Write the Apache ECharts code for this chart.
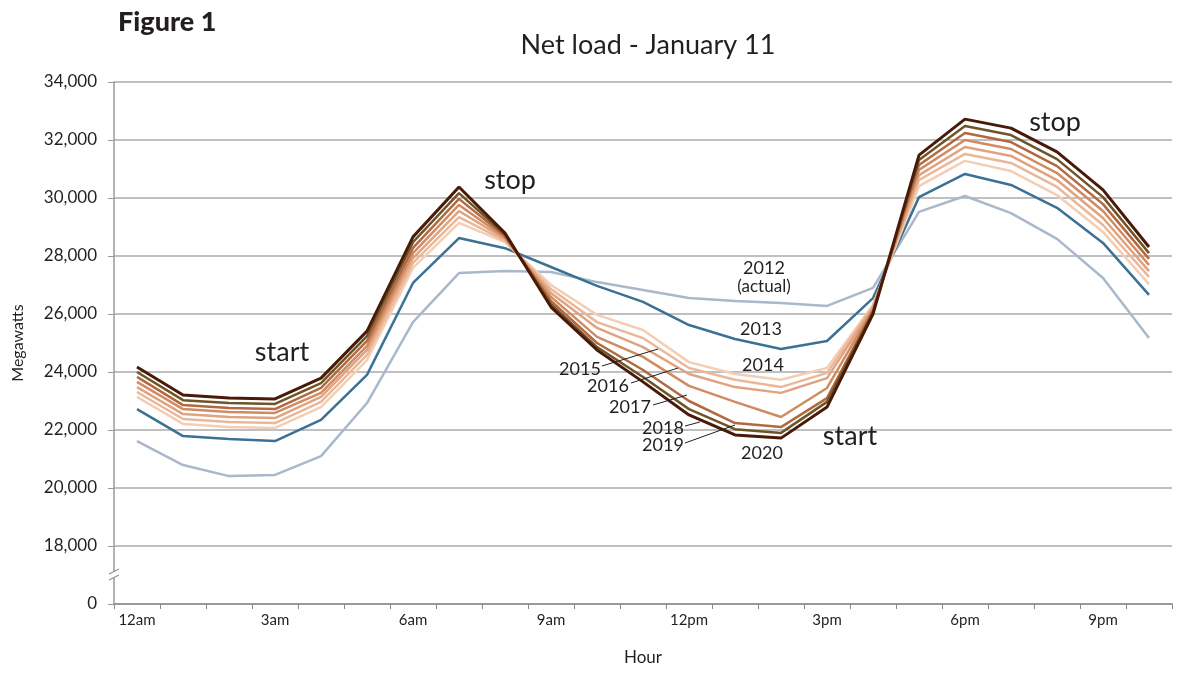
<!DOCTYPE html>
<html><head><meta charset="utf-8">
<script src="https://cdn.jsdelivr.net/npm/echarts@6/dist/echarts.min.js"></script>
<style>html,body{margin:0;padding:0;background:#fff}#c{width:1200px;height:676px}</style>
</head><body><div id="c"></div>
<script>
const hours = ['12am','1am','2am','3am','4am','5am','6am','7am','8am','9am','10am','11am',
  '12pm','1pm','2pm','3pm','4pm','5pm','6pm','7pm','8pm','9pm','10pm'];
const years = ['2012','2013','2014','2015','2016','2017','2018','2019','2020'];

const load2012 = [21620,20790,20410,20450,21100,22930,25720,27410,27480,27450,27100,26830,26550,26450,26380,26280,26900,29520,30070,29480,28590,27240,25170];
const load2013 = [22720,21790,21690,21620,22350,23900,27070,28620,28270,27620,26970,26420,25620,25140,24790,25070,26550,30030,30830,30450,29660,28450,26660];
const load2014 = [23140,22210,22100,22070,22790,24410,27590,29140,28480,27000,25970,25450,24340,23930,23730,24140,26310,30410,31280,30930,30100,28830,27030];
const load2015 = [23310,22380,22280,22240,22970,24590,27760,29340,28530,26860,25720,25170,24140,23730,23480,23970,26280,30620,31520,31210,30380,29070,27280];
const load2016 = [23480,22550,22450,22410,23140,24760,27930,29550,28590,26720,25520,24860,23930,23480,23280,23790,26210,30790,31760,31450,30620,29310,27480];
const load2017 = [23660,22720,22620,22590,23280,24900,28100,29760,28640,26590,25210,24520,23520,22970,22450,23450,26170,30970,32000,31690,30860,29550,27690];
const load2018 = [23830,22860,22760,22720,23450,25070,28280,29970,28690,26450,25000,24070,23000,22240,22100,23100,26100,31140,32240,31930,31100,29790,27900];
const load2019 = [24000,23030,22930,22900,23620,25240,28480,30170,28740,26340,24860,23830,22720,22030,21900,22970,26070,31310,32480,32170,31340,30030,28100];
const load2020 = [24170,23210,23100,23070,23790,25410,28660,30380,28790,26240,24760,23660,22520,21830,21720,22790,26000,31480,32720,32410,31590,30280,28310];

const seriesData = [load2012,load2013,load2014,load2015,load2016,load2017,load2018,load2019,load2020];
const colors = ['#a9b8cb','#3b7194','#f3ceb3','#eab898','#e0a37f','#d08b63','#b3693f','#6e5528','#4a1a08'];
const widths = [2.5,2.5,2.5,2.5,2.5,2.5,2.5,2.5,3];

const FONT = 'Lato, "Open Sans", sans-serif';
const INK = '#231f20';
const chart = echarts.init(document.getElementById('c'), null, {renderer:'canvas'});

function txt(text, x, y, size, opts) {
  return {type:'text', x:x, y:y, z:100,
    style:{text:text, font: (opts && opts.weight ? opts.weight+' ' : '') + size + 'px ' + FONT,
      fill:INK, textAlign:(opts && opts.align)||'center', textVerticalAlign:'middle'}};
}
function seg(x1,y1,x2,y2){
  return {type:'line', z:100, shape:{x1:x1,y1:y1,x2:x2,y2:y2}, style:{stroke:INK, lineWidth:1}};
}

const option = {
  animation:false,
  backgroundColor:'#fff',
  grid:{left:114, right:28, top:82, bottom:72, containLabel:false},
  xAxis:{type:'category', data:hours, boundaryGap:true,
    axisLine:{lineStyle:{color:'#9a9a9a', width:2}},
    axisTick:{show:true, interval:0, length:5, lineStyle:{color:'#8a8a8a'}},
    axisLabel:{interval:2, color:INK, fontSize:15, fontFamily:FONT, margin:9},
    name:'Hour', nameLocation:'middle', nameGap:45,
    nameTextStyle:{color:INK, fontSize:17, fontFamily:FONT}},
  yAxis:{type:'value', min:16000, max:34000, interval:2000,
    axisLine:{show:true, lineStyle:{color:'#9a9a9a', width:1.5}},
    axisTick:{show:true, length:6, lineStyle:{color:'#9a9a9a'}},
    splitLine:{show:true, lineStyle:{color:'#ababab', width:1.5}},
    axisLabel:{color:INK, fontSize:17, fontFamily:FONT, margin:17,
      formatter:function(v){return v===16000?'0':v.toLocaleString('en-US');}},
    name:'Megawatts', nameLocation:'middle', nameGap:88, nameRotate:90,
    nameTextStyle:{color:INK, fontSize:16, fontFamily:FONT}},
  series: seriesData.map(function(d,i){
    return {name:years[i], type:'line', data:d, symbol:'none', z:2+i,
      lineStyle:{color:colors[i], width:widths[i]}, itemStyle:{color:colors[i]}};
  })
};
chart.setOption(option);

const by = chart.convertToPixel({yAxisIndex:0}, 17000);
const ax = chart.convertToPixel({xAxisIndex:0}, 0) - 23;

chart.setOption({graphic:[
  txt('Figure 1', 118, 22, 27, {weight:'900', align:'left'}),
  txt('Net load - January 11', 648, 45, 27),
  {type:'rect', z:100, shape:{x:ax-6, y:by-4, width:12, height:7}, style:{fill:'#fff'}},
  {type:'line', z:101, shape:{x1:ax-5, y1:by-1, x2:ax+5, y2:by-6}, style:{stroke:'#777', lineWidth:1}},
  {type:'line', z:101, shape:{x1:ax-5, y1:by+5, x2:ax+5, y2:by}, style:{stroke:'#777', lineWidth:1}},
  txt('start', 282, 352, 27),
  txt('stop', 510, 180, 27),
  txt('start', 850, 436, 27),
  txt('stop', 1055, 122, 27),
  txt('2012', 764, 268, 18),
  txt('(actual)', 764, 287, 17),
  txt('2013', 761, 329, 18),
  txt('2014', 763, 365, 18),
  txt('2015', 580, 369, 18),
  txt('2016', 608, 386, 18),
  txt('2017', 630, 407, 18),
  txt('2018', 663, 428, 18),
  txt('2019', 663, 445, 18),
  txt('2020', 762, 453, 18),
  seg(602,366,658,349),
  seg(631,383,678,368),
  seg(653,405,687,395),
  seg(685,426,700,422),
  seg(685,443,735,425)
]});
</script>
</body></html>
